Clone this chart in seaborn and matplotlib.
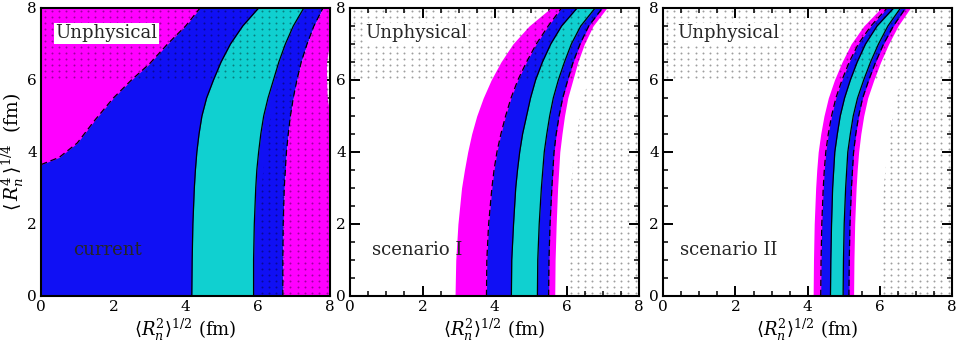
import numpy as np
import matplotlib
matplotlib.use("Agg")
import matplotlib.pyplot as plt
import seaborn as sns
from matplotlib.patches import Polygon
from matplotlib.ticker import MultipleLocator

sns.set_theme(style="ticks")
plt.rcParams["font.family"] = ["DejaVu Serif"]
plt.rcParams["mathtext.fontset"] = "dejavuserif"

y_grid = [0, 1, 2, 3, 3.5, 4, 4.5, 5, 5.5, 6, 6.5, 7, 7.5, 8]

# current: edges of the bands, x at each y_grid value
cur_cyan_left = [4.17, 4.18, 4.20, 4.24, 4.27, 4.31, 4.37, 4.45, 4.58, 4.77, 4.98, 5.24, 5.58, 6.02]
cur_cyan_right = [5.88, 5.88, 5.90, 5.94, 5.97, 6.02, 6.08, 6.16, 6.28, 6.43, 6.58, 6.76, 6.98, 7.27]
cur_blue_right = [6.69, 6.69, 6.70, 6.73, 6.76, 6.79, 6.84, 6.90, 6.98, 7.08, 7.20, 7.36, 7.55, 7.80]
cur_magenta_right = [8.0, 8.0, 8.0, 8.0, 8.0, 8.0, 8.0, 8.0, 7.92, 7.90, 7.90, 7.98, 8.0, 8.0]
# upper-left magenta corner of the current panel (y as a function of x)
cur_corner_x = [0, 0.5, 1.0, 1.5, 2.0, 2.5, 3.0, 3.5, 4.0, 4.4]
cur_corner_y = [3.65, 3.85, 4.25, 4.90, 5.50, 6.00, 6.45, 7.00, 7.50, 8.0]

# scenario I
s1_magenta_left = [2.90, 2.92, 2.98, 3.08, 3.16, 3.25, 3.36, 3.50, 3.68, 3.90, 4.17, 4.50, 4.95, 5.55]
s1_blue_left = [3.77, 3.78, 3.83, 3.92, 3.98, 4.06, 4.17, 4.30, 4.45, 4.64, 4.88, 5.15, 5.48, 5.85]
s1_cyan_left = [4.46, 4.47, 4.52, 4.58, 4.63, 4.69, 4.77, 4.88, 4.99, 5.13, 5.32, 5.55, 5.85, 6.28]
s1_cyan_right = [5.18, 5.19, 5.23, 5.29, 5.33, 5.37, 5.44, 5.52, 5.62, 5.76, 5.93, 6.12, 6.38, 6.78]
s1_blue_right = [5.49, 5.50, 5.53, 5.58, 5.61, 5.64, 5.70, 5.78, 5.88, 6.02, 6.17, 6.36, 6.60, 6.98]
s1_magenta_right = [5.66, 5.67, 5.70, 5.74, 5.77, 5.80, 5.86, 5.93, 6.02, 6.16, 6.30, 6.48, 6.72, 7.10]

# scenario II
s2_magenta_left = [4.15, 4.16, 4.18, 4.22, 4.25, 4.29, 4.36, 4.45, 4.57, 4.74, 4.95, 5.20, 5.55, 6.03]
s2_blue_left = [4.36, 4.37, 4.39, 4.43, 4.46, 4.50, 4.57, 4.66, 4.78, 4.95, 5.15, 5.40, 5.75, 6.20]
s2_cyan_left = [4.63, 4.64, 4.66, 4.69, 4.72, 4.75, 4.82, 4.90, 5.02, 5.18, 5.37, 5.60, 5.92, 6.38]
s2_cyan_right = [4.98, 4.99, 5.01, 5.05, 5.08, 5.11, 5.18, 5.26, 5.38, 5.55, 5.74, 5.96, 6.22, 6.57]
s2_blue_right = [5.14, 5.15, 5.17, 5.21, 5.24, 5.27, 5.33, 5.41, 5.52, 5.69, 5.88, 6.10, 6.37, 6.71]
s2_magenta_right = [5.27, 5.28, 5.30, 5.34, 5.37, 5.41, 5.47, 5.55, 5.66, 5.83, 6.02, 6.24, 6.50, 6.84]

# unphysical (dotted) region: x > edge below y = 6, everything above y = 6
unphys_y = [0, 1, 2, 3, 4, 5, 5.5, 6]
unphys_x = [6.00, 6.00, 6.05, 6.10, 6.20, 6.35, 6.45, 6.60]
unphys_ymin = 6

panel_names = ["current", "scenario I", "scenario II"]

MAGENTA = "#ff00ff"
BLUE = "#1010f4"
CYAN = "#10d0d0"

fig = plt.figure(figsize=(9.57, 3.47), dpi=100)
lefts = [0.043, 0.366, 0.693]
axes = [fig.add_axes([l, 0.147, 0.302, 0.830]) for l in lefts]


def edge(ax, xs, dashed=False):
    sns.lineplot(x=xs, y=y_grid, orient="y", estimator=None, color="black",
                 lw=0.9, linestyle=(0, (5, 3)) if dashed else "-", ax=ax, zorder=3)


def unphysical(ax):
    verts = [(unphys_x[0], 0), (8, 0), (8, 8), (0, 8), (0, unphys_ymin)]
    verts += [(x, y) for x, y in zip(unphys_x[::-1], unphys_y[::-1])]
    region = Polygon(verts, closed=True, facecolor="none", edgecolor="none",
                     transform=ax.transData)
    ax.add_patch(region)
    gx, gy = np.meshgrid(np.arange(0.1, 8, 0.2), np.arange(1 / 12, 8, 1 / 6))
    dots = ax.scatter(gx.ravel(), gy.ravel(), s=2.0, marker="o", color="black",
                      alpha=0.38, linewidths=0, zorder=4)
    dots.set_clip_path(region)


# current
ax = axes[0]
ax.fill_betweenx(y_grid, 0, cur_blue_right, color=BLUE, lw=0, zorder=1)
ax.fill_between(cur_corner_x, cur_corner_y, 8, color=MAGENTA, lw=0, zorder=1.5)
ax.fill_betweenx(y_grid, cur_cyan_left, cur_cyan_right, color=CYAN, lw=0, zorder=1.5)
ax.fill_betweenx(y_grid, cur_blue_right, cur_magenta_right, color=MAGENTA, lw=0, zorder=1.5)
sns.lineplot(x=cur_corner_x, y=cur_corner_y, color="black", lw=0.9,
             linestyle=(0, (5, 3)), ax=ax, zorder=3)
edge(ax, cur_cyan_left)
edge(ax, cur_cyan_right)
edge(ax, cur_blue_right, dashed=True)

# scenarios
for ax, bands in zip(axes[1:], [
        (s1_magenta_left, s1_blue_left, s1_cyan_left, s1_cyan_right, s1_blue_right, s1_magenta_right),
        (s2_magenta_left, s2_blue_left, s2_cyan_left, s2_cyan_right, s2_blue_right, s2_magenta_right)]):
    ml, bl, cl, cr, br, mr = bands
    ax.fill_betweenx(y_grid, ml, mr, color=MAGENTA, lw=0, zorder=1)
    ax.fill_betweenx(y_grid, bl, br, color=BLUE, lw=0, zorder=1.5)
    ax.fill_betweenx(y_grid, cl, cr, color=CYAN, lw=0, zorder=2)
    edge(ax, bl, dashed=True)
    edge(ax, br, dashed=True)
    edge(ax, cl)
    edge(ax, cr)

text_x = [0.89, 0.6, 0.47]
for ax, name, tx in zip(axes, panel_names, text_x):
    unphysical(ax)
    ax.text(0.40, 7.3, "Unphysical", fontsize=13, va="center", ha="left", zorder=6,
            bbox=dict(facecolor="white", edgecolor="none", pad=1.0))
    ax.text(tx, 1.28, name, fontsize=13, va="center", ha="left", zorder=6)
    ax.set_xlim(0, 8)
    ax.set_ylim(0, 8)
    ax.xaxis.set_major_locator(MultipleLocator(2))
    ax.yaxis.set_major_locator(MultipleLocator(2))
    ax.xaxis.set_minor_locator(MultipleLocator(0.5))
    ax.yaxis.set_minor_locator(MultipleLocator(0.5))
    ax.tick_params(which="both", direction="in", top=True, right=True,
                   colors="black", labelsize=11, pad=3)
    ax.tick_params(which="major", length=7, width=1.4)
    ax.tick_params(which="minor", length=3.5, width=1.1)
    for s in ax.spines.values():
        s.set_linewidth(1.5)
        s.set_color("black")
        s.set_zorder(7)
    ax.set_xlabel(r"$\langle R_n^2\rangle^{1/2}$ (fm)", fontsize=13, labelpad=2, color="black")
    ax.set_ylabel("")

axes[0].set_ylabel(r"$\langle\,R_n^4\,\rangle^{1/4}$  (fm)", fontsize=13.5, color="black")
axes[0].yaxis.set_label_coords(-0.052, 0.5)

fig.savefig("out.png", dpi=100)
